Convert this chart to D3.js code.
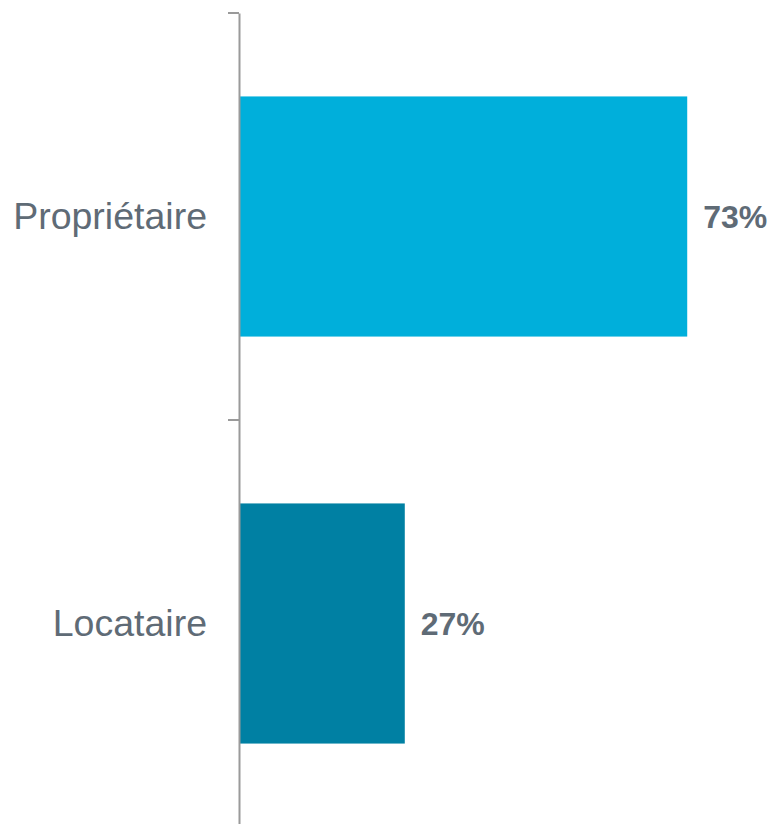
<!DOCTYPE html>
<html>
<head>
<meta charset="utf-8">
<script src="https://cdn.jsdelivr.net/npm/d3@7"></script>
<style>
  body { margin: 0; background: #fff; }
  svg { display: block; font-family: "Liberation Sans", Arial, sans-serif; }
</style>
</head>
<body>
<svg id="chart"></svg>
<script>
const categories = ["Propriétaire", "Locataire"];
const values = [0.73, 0.27];
const valueLabels = ["73%", "27%"];
const barColors = ["#00AFDB", "#0080A3"];

const WIDTH = 774;
const HEIGHT = 824;
const PADDING = { TOP: 13, BOTTOM: -3, LEFT: 239, RIGHT: 0 };

const svg = d3.select("#chart")
  .attr("width", WIDTH)
  .attr("height", HEIGHT);

const xScale = d3.scaleLinear()
  .domain([0, 1])
  .range([PADDING.LEFT, PADDING.LEFT + 614]);

const yScale = d3.scaleBand()
  .domain(categories)
  .range([PADDING.TOP, HEIGHT - PADDING.BOTTOM])
  .paddingInner(0.41)
  .paddingOuter(0.205);

// bars
svg.selectAll("rect.bar")
  .data(categories)
  .enter()
  .append("rect")
    .attr("class", "bar")
    .attr("x", xScale(0))
    .attr("y", d => yScale(d))
    .attr("width", (d, i) => xScale(values[i]) - xScale(0))
    .attr("height", yScale.bandwidth())
    .attr("fill", (d, i) => barColors[i]);

// value labels
svg.selectAll("text.value")
  .data(categories)
  .enter()
  .append("text")
    .attr("class", "value")
    .attr("x", (d, i) => xScale(values[i]) + 16)
    .attr("y", d => yScale(d) + yScale.bandwidth() / 2)
    .attr("dy", "0.35em")
    .attr("font-size", 32)
    .attr("font-weight", "bold")
    .attr("fill", "#5F6B76")
    .text((d, i) => valueLabels[i]);

// axis with ticks on band boundaries
const axis = svg.append("g")
  .attr("transform", `translate(${PADDING.LEFT},0)`)
  .call(d3.axisLeft(yScale).tickSize(0).tickPadding(32));

axis.select(".domain")
  .attr("stroke", "#9A9A9A")
  .attr("stroke-width", 2);

axis.selectAll(".tick text")
  .attr("font-size", 37.5)
  .attr("font-family", "Liberation Sans, Arial, sans-serif")
  .attr("fill", "#5F6B76");

const step = yScale.step();
const bounds = d3.range(categories.length + 1).map(i => PADDING.TOP + i * step);

axis.selectAll("line.boundary")
  .data(bounds)
  .enter()
  .append("line")
    .attr("class", "boundary")
    .attr("x1", -11)
    .attr("x2", 0)
    .attr("y1", d => d)
    .attr("y2", d => d)
    .attr("stroke", "#9A9A9A")
    .attr("stroke-width", 2);
</script>
</body>
</html>
